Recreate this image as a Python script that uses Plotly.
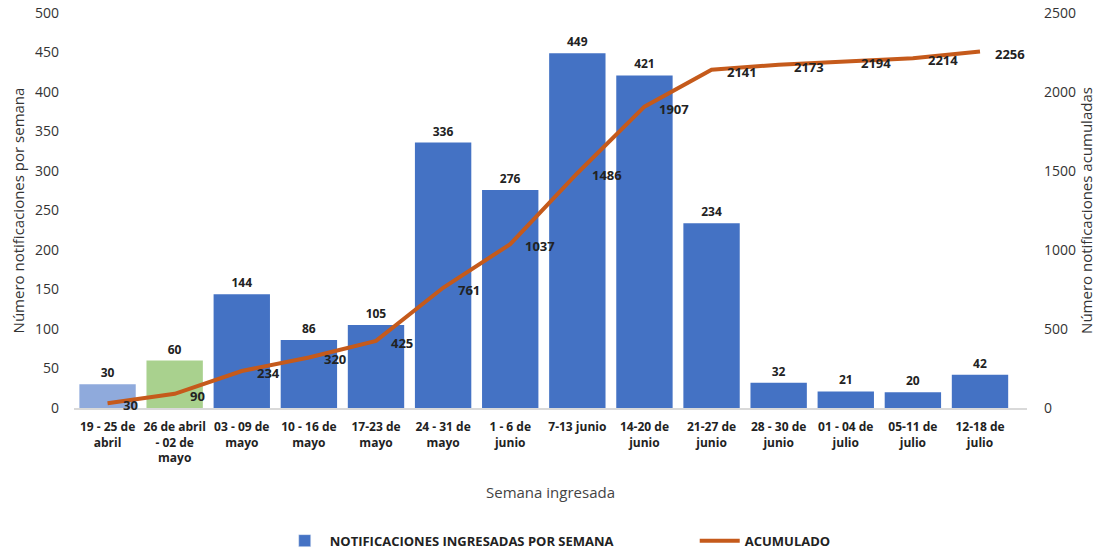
import plotly.graph_objects as go

semanas = [
    "19 - 25 de<br>abril", "26 de abril<br>- 02 de<br>mayo", "03 - 09 de<br>mayo",
    "10 - 16 de<br>mayo", "17-23 de<br>mayo", "24 - 31 de<br>mayo", "1 - 6 de<br>junio",
    "7-13 junio", "14-20 de<br>junio", "21-27 de<br>junio", "28 - 30 de<br>junio",
    "01 - 04 de<br>julio", "05-11 de<br>julio", "12-18 de<br>julio",
]
notificaciones = [30, 60, 144, 86, 105, 336, 276, 449, 421, 234, 32, 21, 20, 42]
acumulado = [30, 90, 234, 320, 425, 761, 1037, 1486, 1907, 2141, 2173, 2194, 2214, 2256]

BLUE = "#4472C4"
bar_colors = ["#8FAADC", "#A9D18E"] + [BLUE] * (len(semanas) - 2)
line_color = "#C55A1B"
font_family = "Open Sans, Liberation Sans, sans-serif"

fig = go.Figure()
fig.add_trace(go.Bar(
    x=semanas, y=notificaciones, name="NOTIFICACIONES INGRESADAS POR SEMANA",
    marker=dict(color=bar_colors, line=dict(width=0)),
    text=[str(v) for v in notificaciones], textposition="outside",
    textfont=dict(size=12, color="#222222", family=font_family, weight="bold"),
    cliponaxis=False, showlegend=False,
))
# legend entry for the weekly bars, in the main bar colour
fig.add_trace(go.Bar(
    x=[semanas[0]], y=[None], name="NOTIFICACIONES INGRESADAS POR SEMANA",
    marker=dict(color=BLUE), showlegend=True, hoverinfo="skip",
))
fig.add_trace(go.Scatter(
    x=semanas, y=acumulado, name="ACUMULADO", yaxis="y2", mode="lines",
    line=dict(color=line_color, width=4),
    cliponaxis=False,
))

# cumulative value labels, just to the right of each point
for cat, val in zip(semanas, acumulado):
    fig.add_annotation(
        x=cat, y=val, xref="x", yref="y2", text=f"<b>{val}</b>",
        showarrow=False, xanchor="left", yanchor="middle", xshift=13, yshift=-2,
        font=dict(size=13, color="#222222", family=font_family),
    )

fig.update_layout(
    width=1110, height=554,
    margin=dict(l=74, r=83, t=13, b=146),
    plot_bgcolor="white", paper_bgcolor="white",
    font=dict(family=font_family, size=14, color="#333333"),
    bargap=0.16, barmode="overlay",
    showlegend=True,
    legend=dict(orientation="h", x=0.252, xanchor="left", xref="container",
                y=0.024, yanchor="middle", yref="container",
                font=dict(size=13, color="#222222", weight="bold"),
                itemwidth=40, traceorder="normal", entrywidth=360),
    xaxis=dict(
        title=dict(text="Semana ingresada", font=dict(size=15, color="#444444"), standoff=22),
        tickfont=dict(size=12, color="#222222", weight="bold"),
        showline=True, linecolor="#D9D9D9", linewidth=1.5, ticks="", tickangle=0,
        ticklabelstandoff=7, automargin=False,
    ),
    yaxis=dict(
        title=dict(text="Número notificaciones por semana", font=dict(size=15, color="#333333"), standoff=6),
        range=[0, 500], dtick=50, showgrid=False, zeroline=False,
        tickfont=dict(size=14, color="#333333"), ticklabelstandoff=14,
        automargin=False,
    ),
    yaxis2=dict(
        title=dict(text="Número notificaciones acumuladas", font=dict(size=15, color="#333333"), standoff=6),
        range=[0, 2500], dtick=500, overlaying="y", side="right", showgrid=False, zeroline=False,
        tickfont=dict(size=14, color="#333333"), ticklabelstandoff=16,
        automargin=False,
    ),
)

fig.write_html("out.html")
